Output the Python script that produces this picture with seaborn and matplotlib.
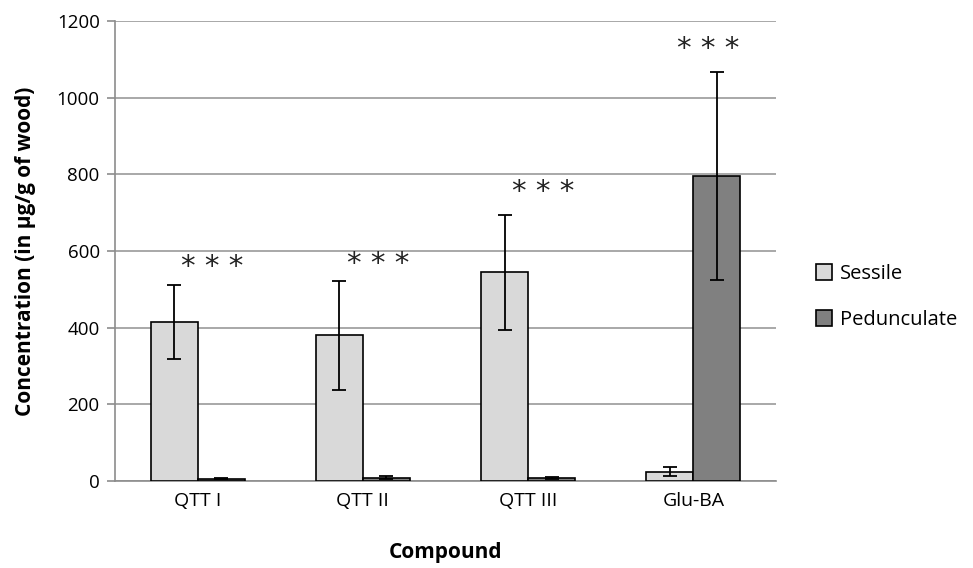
import numpy as np
import pandas as pd
import matplotlib
matplotlib.use("Agg")
import matplotlib.pyplot as plt
import seaborn as sns
from matplotlib.ticker import FixedLocator

# data
compounds = ["QTT I", "QTT II", "QTT III", "Glu-BA"]
species = ["Sessile", "Pedunculate"]
sessile_mean = [415, 380, 545, 24]
sessile_err = [96, 142, 150, 12]
pedunc_mean = [6, 9, 8, 796]
pedunc_err = [2, 4, 3, 271]
star_y = [558, 566, 754, 1128]

df = pd.DataFrame({
    "Compound": compounds * 2,
    "Species": [species[0]] * 4 + [species[1]] * 4,
    "Concentration": sessile_mean + pedunc_mean,
    "err": sessile_err + pedunc_err,
})

sns.set_style("white")
plt.rcParams["font.family"] = ["Open Sans", "DejaVu Sans"]
plt.rcParams["text.color"] = "black"
plt.rcParams["axes.labelcolor"] = "black"
plt.rcParams["xtick.color"] = "black"
plt.rcParams["ytick.color"] = "black"

fig = plt.figure(figsize=(9.73, 5.68), dpi=100)
ax = fig.add_axes([115 / 973, 1 - 481 / 568, (776 - 115) / 973, (481 - 21) / 568])

sns.barplot(data=df, x="Compound", y="Concentration", hue="Species",
            order=compounds, hue_order=species,
            palette=["#d9d9d9", "#808080"], width=0.57, gap=0,
            edgecolor="black", linewidth=1.2, errorbar=None, ax=ax, zorder=3)

# error bars from bar centres
for cont, errs in zip(ax.containers, [sessile_err, pedunc_err]):
    for bar, e in zip(cont, errs):
        xc = bar.get_x() + bar.get_width() / 2
        ax.errorbar(xc, bar.get_height(), yerr=e, fmt="none", ecolor="black",
                    elinewidth=1.3, capsize=5, capthick=1.3, zorder=4)

for i, y in enumerate(star_y):
    ax.text(i + 0.09, y, "* * *", ha="center", va="center", fontsize=21,
            family="DejaVu Sans", color="#222222")

ax.set_ylim(0, 1200)
ax.set_xlim(-0.5, 3.5)
ax.set_yticks(range(0, 1201, 200))
ax.yaxis.grid(True, color="#9a9a9a", linewidth=1.2, zorder=0)
ax.set_axisbelow(True)

for side in ["top", "right"]:
    ax.spines[side].set_visible(False)
for side in ["left", "bottom"]:
    ax.spines[side].set_color("#8c8c8c")
    ax.spines[side].set_linewidth(1.2)

ax.tick_params(axis="x", which="major", length=0, pad=8, labelsize=14)
ax.xaxis.set_minor_locator(FixedLocator([-0.5, 0.5, 1.5, 2.5, 3.5]))
ax.tick_params(axis="x", which="minor", length=7, width=1.2, color="#8c8c8c", direction="out")
ax.tick_params(axis="y", length=6, width=1.2, color="#8c8c8c", labelcolor="black",
               direction="out", labelsize=13.5, left=True, pad=5)

ax.set_xlabel("Compound", fontsize=15, fontweight="bold", labelpad=23)
ax.set_ylabel("Concentration (in \u00b5g/g of wood)", fontsize=15, fontweight="bold", labelpad=15)

ax.legend(loc="center left", bbox_to_anchor=(1.045, 0.40), frameon=False,
          fontsize=14.5, handlelength=0.8, handleheight=0.8, labelspacing=1.3,
          handletextpad=0.4, borderpad=0)

fig.savefig("out.png", dpi=100)
